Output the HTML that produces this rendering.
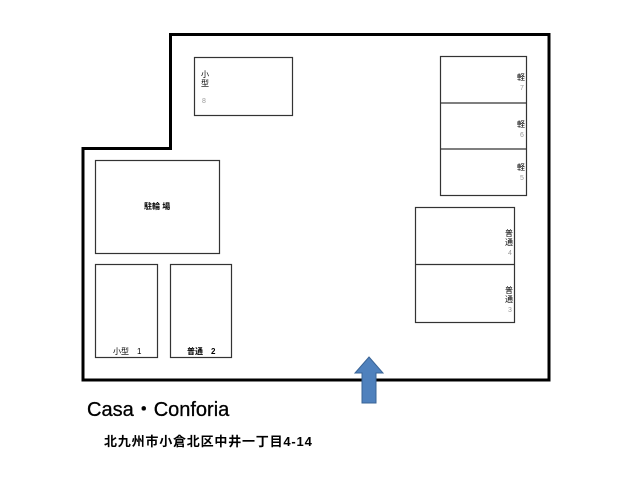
<!DOCTYPE html>
<html><head><meta charset="utf-8"><style>
body{margin:0;background:#fff;width:640px;height:480px;overflow:hidden}
svg{display:block}
</style></head><body>
<svg width="640" height="480" viewBox="0 0 640 480" xmlns="http://www.w3.org/2000/svg" font-family="'Liberation Sans','Noto Sans CJK JP',sans-serif">
<polygon points="170.5,34.5 549,34.5 549,380 83,380 83,148.5 170.5,148.5" fill="none" stroke="#000" stroke-width="3"/>
<g fill="none" stroke="#333" stroke-width="1.2">
<rect x="194.5" y="57.5" width="98" height="58"/>
<rect x="440.5" y="56.5" width="86" height="139"/>
<line x1="440.5" y1="103" x2="526.5" y2="103"/>
<line x1="440.5" y1="149" x2="526.5" y2="149"/>
<rect x="415.5" y="207.5" width="99" height="115"/>
<line x1="415.5" y1="264.5" x2="514.5" y2="264.5"/>
<rect x="95.5" y="160.5" width="124" height="93"/>
<rect x="95.5" y="264.5" width="62" height="93"/>
<rect x="170.5" y="264.5" width="61" height="93"/>
</g>
<g font-size="8" fill="#000">
<text x="201" y="77">小</text><text x="201" y="86">型</text>
<text x="202" y="103" fill="#999" font-size="7">8</text>
<text x="517" y="80">軽</text><text x="520" y="90" fill="#999" font-size="7">7</text>
<text x="517" y="127">軽</text><text x="520" y="137" fill="#999" font-size="7">6</text>
<text x="517" y="170">軽</text><text x="520" y="180" fill="#999" font-size="7">5</text>
<text x="505" y="236">普</text><text x="505" y="245">通</text><text x="508" y="255" fill="#999" font-size="7">4</text>
<text x="505" y="293">普</text><text x="505" y="302">通</text><text x="508" y="312" fill="#999" font-size="7">3</text>
<text x="144" y="209" font-weight="bold">駐輪 場</text>
<text x="113" y="354">小型　1</text>
<text x="187" y="354" font-weight="bold">普通　2</text>
</g>
<polygon points="369,357 383,373 376,373 376,403 362,403 362,373 355,373" fill="#4f81bd" stroke="#3a6496" stroke-width="1"/>
<text x="87" y="416" font-size="20" fill="#000" stroke="#000" stroke-width="0.3">Casa・Conforia</text>
<text x="104" y="446" font-size="13" font-weight="bold" fill="#000" letter-spacing="0.8">北九州市小倉北区中井一丁目4-14</text>
</svg>
</body></html>
